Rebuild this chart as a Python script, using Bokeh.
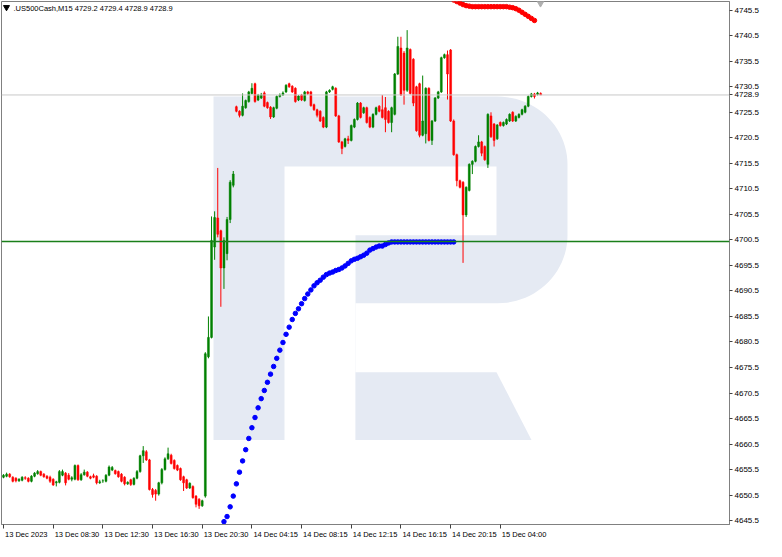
import numpy as np
from bokeh.plotting import figure
from bokeh.models import (ColumnDataSource, FixedTicker, Span, Label, Range1d,
                          NumeralTickFormatter, LinearAxis)
from bokeh.embed import file_html
from bokeh.resources import INLINE

symbol = ".US500Cash,M15"
last_quote = [4729.2, 4729.4, 4728.9, 4728.9]

open_ = [
    4654.0, 4654.2, 4654.6, 4654.0, 4653.8, 4653.3, 4653.4, 4653.9, 4653.8, 4653.2,
    4654.2, 4654.7, 4655.1, 4654.6, 4654.2, 4654.0, 4653.6, 4652.9, 4653.0, 4654.4,
    4654.8, 4654.4, 4653.6, 4653.6, 4656.3, 4653.5, 4654.5, 4655.0, 4654.1, 4654.3,
    4654.2, 4652.9, 4653.3, 4653.2, 4654.4, 4655.4, 4655.3, 4655.1, 4654.6, 4654.0,
    4652.7, 4653.5, 4652.6, 4653.8, 4655.1, 4658.2, 4659.0, 4657.4, 4651.6, 4651.4,
    4650.7, 4652.9, 4655.5, 4657.6, 4658.3, 4657.3, 4656.3, 4655.7, 4654.1, 4653.5,
    4651.9, 4652.2, 4650.3, 4649.7, 4648.4,
    4650.3, 4677.6, 4681.4, 4699.1, 4704.8, 4702.3, 4695.0, 4697.8, 4704.5, 4711.2,
    4726.6, 4725.7, 4724.9, 4726.4, 4727.6, 4729.2, 4731.1, 4727.9, 4728.3, 4729.3,
    4727.4, 4726.5, 4724.6, 4726.3, 4728.6, 4728.9, 4729.5, 4731.1, 4730.6, 4730.2,
    4727.9, 4728.9, 4727.8, 4729.5, 4729.5, 4727.0, 4726.0,
    4725.7, 4724.5,
    4722.6, 4729.5, 4730.0, 4730.2, 4724.8, 4719.7, 4718.8, 4720.3, 4720.0, 4722.6,
    4724.1, 4727.3, 4725.4, 4726.4, 4724.5, 4722.6, 4725.1, 4726.7, 4726.0, 4726.4,
    4725.7, 4723.5,
    4725.1, 4733.0, 4738.1, 4737.1, 4729.8, 4737.8, 4735.9, 4730.5, 4731.1, 4721.0,
    4721.3, 4730.2, 4720.0, 4723.8, 4728.3, 4729.5, 4736.2, 4736.8, 4737.7,
    4723.8, 4717.2, 4712.1, 4711.8, 4705.4, 4710.2, 4715.3, 4715.9, 4718.8, 4719.7,
    4718.8, 4715.3, 4724.8, 4723.2, 4720.3, 4723.5, 4722.9, 4723.2, 4723.8, 4725.5,
    4723.8, 4724.5, 4725.1, 4725.5, 4726.7, 4728.6, 4729.1, 4729.0, 4729.2,
]
high = [
    4654.6, 4654.9, 4654.8, 4654.2, 4654.0, 4653.8, 4654.2, 4654.2, 4654.0, 4654.4,
    4655.0, 4655.4, 4655.3, 4654.8, 4654.4, 4654.3, 4653.8, 4653.3, 4655.4, 4655.5,
    4655.0, 4654.8, 4654.2, 4656.5, 4656.5, 4654.8, 4655.5, 4655.2, 4654.3, 4654.7,
    4654.4, 4653.5, 4653.6, 4654.6, 4656.3, 4656.2, 4655.5, 4655.3, 4654.8, 4654.2,
    4653.2, 4653.7, 4654.0, 4655.4, 4658.4, 4660.1, 4659.3, 4657.6, 4651.9, 4651.7,
    4653.1, 4655.8, 4657.9, 4659.8, 4658.6, 4657.5, 4656.5, 4655.9, 4654.3, 4653.7,
    4653.0, 4652.4, 4650.5, 4649.9, 4649.6,
    4678.5, 4685.5, 4705.1, 4706.1, 4714.6, 4702.5, 4701.0, 4705.0, 4712.2, 4714.0,
    4726.8, 4725.9, 4729.2, 4728.0, 4729.7, 4731.2, 4731.3, 4729.1, 4729.3, 4729.6,
    4727.6, 4726.7, 4726.6, 4728.8, 4729.2, 4729.6, 4731.0, 4731.3, 4730.8, 4730.4,
    4728.9, 4729.1, 4729.7, 4729.7, 4729.7, 4727.2, 4726.2,
    4725.9, 4724.7,
    4729.7, 4730.0, 4730.7, 4730.4, 4725.0, 4719.9, 4720.5, 4720.9, 4723.1, 4724.3,
    4727.5, 4727.5, 4726.6, 4726.6, 4724.7, 4725.3, 4726.6, 4726.9, 4728.9, 4728.5,
    4725.9, 4726.6,
    4733.2, 4740.3, 4740.3, 4737.5, 4741.6, 4738.0, 4736.1, 4730.7, 4731.3, 4732.7,
    4730.4, 4730.4, 4724.0, 4728.5, 4729.7, 4736.4, 4737.0, 4737.6, 4737.9,
    4724.1, 4717.4, 4712.3, 4712.0, 4711.0, 4715.5, 4716.1, 4719.0, 4721.0, 4719.9,
    4719.0, 4725.3, 4725.5, 4723.4, 4723.2, 4723.7, 4723.7, 4724.3, 4725.3, 4725.7,
    4724.9, 4725.3, 4726.2, 4726.9, 4728.8, 4729.3, 4729.3, 4729.5, 4729.4,
]
low = [
    4653.8, 4654.0, 4653.9, 4653.0, 4653.0, 4653.1, 4653.2, 4653.5, 4653.0, 4653.0,
    4654.0, 4654.5, 4654.2, 4653.9, 4653.6, 4652.9, 4652.3, 4652.2, 4652.8, 4654.2,
    4652.4, 4653.4, 4653.2, 4653.4, 4653.3, 4653.3, 4654.3, 4654.0, 4653.6, 4653.8,
    4652.6, 4652.7, 4652.9, 4653.0, 4654.2, 4655.2, 4654.5, 4653.9, 4653.0, 4652.4,
    4652.5, 4652.3, 4652.4, 4653.6, 4654.9, 4656.8, 4657.2, 4651.4, 4650.0, 4649.4,
    4650.4, 4652.6, 4655.3, 4657.4, 4656.5, 4655.5, 4655.2, 4653.3, 4651.3, 4651.7,
    4651.7, 4649.8, 4648.1, 4647.8, 4648.2,
    4650.0, 4677.3, 4681.2, 4696.6, 4701.0, 4687.4, 4690.9, 4696.5, 4703.8, 4710.8,
    4725.5, 4724.5, 4724.7, 4726.2, 4727.4, 4729.0, 4727.4, 4727.7, 4728.1, 4726.5,
    4726.2, 4724.2, 4724.4, 4726.1, 4728.4, 4728.7, 4729.3, 4730.3, 4729.3, 4727.4,
    4727.7, 4727.7, 4727.6, 4728.9, 4726.6, 4725.8, 4724.5,
    4723.6, 4722.4,
    4722.4, 4729.3, 4729.8, 4724.6, 4719.5, 4717.3, 4718.6, 4719.3, 4719.8, 4722.4,
    4723.9, 4724.3, 4725.2, 4723.3, 4722.4, 4722.4, 4724.9, 4725.5, 4724.3, 4721.6,
    4723.3, 4721.6,
    4724.9, 4732.8, 4728.7, 4727.0, 4729.5, 4729.0, 4726.7, 4721.7, 4720.6, 4720.8,
    4719.4, 4719.8, 4719.1, 4723.6, 4728.1, 4729.3, 4736.0, 4728.0, 4723.6,
    4717.0, 4711.0, 4710.6, 4696.0, 4705.0, 4710.0, 4713.4, 4715.7, 4718.6, 4716.9,
    4716.0, 4714.6, 4720.5, 4718.8, 4720.1, 4722.7, 4722.7, 4723.0, 4723.6, 4723.6,
    4723.6, 4724.3, 4724.9, 4725.3, 4726.5, 4728.4, 4728.2, 4728.8, 4728.9,
]
close = [
    4654.4, 4654.6, 4654.1, 4653.2, 4653.3, 4653.6, 4654.0, 4653.8, 4653.2, 4654.2,
    4654.8, 4655.1, 4654.4, 4654.1, 4653.8, 4653.2, 4652.5, 4653.1, 4655.1, 4655.1,
    4652.9, 4653.6, 4653.9, 4656.3, 4653.5, 4654.5, 4655.0, 4654.2, 4653.8, 4654.0,
    4652.9, 4653.1, 4653.3, 4654.4, 4656.0, 4655.9, 4654.7, 4654.1, 4653.2, 4652.7,
    4653.0, 4652.6, 4653.8, 4655.1, 4658.2, 4659.2, 4657.4, 4651.6, 4650.6, 4650.7,
    4652.9, 4655.5, 4657.6, 4658.6, 4656.7, 4655.7, 4655.4, 4653.5, 4652.9, 4651.9,
    4652.8, 4650.0, 4648.7, 4648.4, 4649.4,
    4678.2, 4681.4, 4700.4, 4704.9, 4701.6, 4695.0, 4700.4, 4704.5, 4711.8, 4713.4,
    4725.7, 4724.9, 4726.7, 4727.8, 4729.5, 4730.2, 4727.6, 4728.9, 4728.9, 4726.7,
    4726.4, 4724.6, 4726.4, 4728.6, 4728.9, 4729.3, 4730.8, 4730.5, 4729.5, 4727.6,
    4728.7, 4727.9, 4729.5, 4729.2, 4726.8, 4726.0, 4724.9,
    4723.8, 4722.6,
    4729.5, 4729.8, 4730.5, 4724.8, 4719.7, 4718.4, 4720.3, 4720.0, 4722.9, 4724.1,
    4727.3, 4724.5, 4726.4, 4723.5, 4722.6, 4725.1, 4726.4, 4725.7, 4724.5, 4724.1,
    4723.5, 4726.4,
    4733.0, 4738.4, 4728.9, 4729.8, 4738.1, 4729.2, 4727.3, 4721.9, 4721.0, 4723.8,
    4730.2, 4720.0, 4723.8, 4728.3, 4729.5, 4736.2, 4736.8, 4733.0, 4723.8,
    4717.2, 4712.1, 4710.8, 4705.4, 4710.8, 4715.3, 4715.9, 4718.8, 4719.7, 4717.5,
    4716.2, 4725.1, 4720.7, 4720.0, 4723.0, 4722.9, 4723.5, 4724.1, 4725.1, 4723.8,
    4724.7, 4725.1, 4726.0, 4726.7, 4728.6, 4729.1, 4728.6, 4729.3, 4728.9,
]

blue_start = 71
blue_dots = [
    4645.3, 4646.3, 4648.2, 4650.3, 4652.7, 4655.0, 4657.2, 4659.4, 4661.6, 4663.7,
    4665.7, 4667.6, 4669.4, 4671.0, 4672.6, 4674.2, 4675.7, 4677.3, 4678.9, 4680.4,
    4682.0, 4683.4, 4684.9, 4686.1, 4687.0, 4688.0, 4689.0, 4689.9, 4690.7, 4691.5,
    4692.1, 4692.6, 4693.2, 4693.7, 4694.0, 4694.2, 4694.5, 4694.7, 4695.0, 4695.4,
    4695.9, 4696.4, 4696.7, 4696.9, 4697.2, 4697.5, 4697.9, 4698.5, 4698.8, 4699.1,
    4699.3, 4699.3, 4699.6, 4699.9, 4700.1, 4700.1, 4700.1, 4700.1, 4700.1, 4700.1,
    4700.1, 4700.1, 4700.1, 4700.1, 4700.1, 4700.1, 4700.1, 4700.1, 4700.1, 4700.1,
    4700.1, 4700.1, 4700.1, 4700.1, 4700.1,
]
red_start = 145
red_dots = [
    4747.5, 4747.2, 4746.9, 4746.6, 4746.4, 4746.3, 4746.2, 4746.2, 4746.2, 4746.2,
    4746.2, 4746.2, 4746.2, 4746.2, 4746.2, 4746.2, 4746.2, 4746.2, 4746.1, 4746.0,
    4745.8, 4745.5, 4745.1, 4744.7, 4744.3, 4743.9, 4743.5,
]

level_line = 4700.2
y_ticks = [4645.5 + 5 * k for k in range(21)]
x_tick_bars = [0, 16, 32, 48, 64, 80, 96, 112, 128, 144, 160]
x_tick_labels = ["13 Dec 2023", "13 Dec 08:30", "13 Dec 12:30", "13 Dec 16:30", "13 Dec 20:30",
                 "14 Dec 04:15", "14 Dec 08:15", "14 Dec 12:15", "14 Dec 16:15", "14 Dec 20:15",
                 "15 Dec 04:00"]

# ---- layout helpers (reference pixel geometry -> data space) ----
PPB = 3.105      # pixels per bar
PPP = 5.26       # pixels per price point in the reference
FRAME_W = 728
FRAME_H = 523


def px2x(px):
    return (px - 4) / PPB


def py2y(py):
    return 4745.5 - (py - 11) / PPP


FONT = "Liberation Sans"
XFS = 7.5
n = len(close)
xs = np.arange(n)
o = np.array(open_); c = np.array(close); h = np.array(high); l = np.array(low)
colors = np.where(c >= o, "#008000", "#ff0000")
src = ColumnDataSource(dict(x=xs, o=o, c=c, h=h, l=l, top=np.maximum(o, c),
                            bot=np.minimum(o, c), col=colors))

x0 = px2x(2)
x1 = x0 + FRAME_W / PPB
p = figure(frame_width=FRAME_W, frame_height=FRAME_H, output_backend="svg",
           toolbar_location=None,
           x_range=Range1d(x0, x1), y_range=Range1d(py2y(541), py2y(2)),
           y_axis_location="right", min_border_left=1, min_border_top=1,
           min_border_right=0, min_border_bottom=0)
p.grid.visible = False
p.outline_line_color = "#808080"
p.background_fill_color = "white"
p.border_fill_color = "white"

# watermark (RoboForex "R")
wm = "#e5eaf3"


def arc(cx, cy, r, a0, a1, k=24):
    t = np.linspace(np.radians(a0), np.radians(a1), k)
    return list(cx + r * np.cos(t)), list(cy + r * np.sin(t))


ax1, ay1 = arc(498, 170, 70, -90, 0)
ax2, ay2 = arc(498, 243, 70, 0, 90)
outer_x = [214, 214] + ax1 + ax2 + [356, 356, 285, 285]
outer_y = [454, 100] + ay1 + ay2 + [313, 454, 454, 454]
p.patch([px2x(v) for v in outer_x], [py2y(v) for v in outer_y], color=wm, line_color=None)
hole_x = [285, 497, 497, 356, 356, 285]
hole_y = [172, 172, 243, 243, 454, 454]
p.patch([px2x(v) for v in hole_x], [py2y(v) for v in hole_y], color="white", line_color=None)
leg_x = [356, 497, 532, 356]
leg_y = [384, 384, 454, 454]
p.patch([px2x(v) for v in leg_x], [py2y(v) for v in leg_y], color=wm, line_color=None)

# lines
p.add_layout(Span(location=close[-1], dimension="width", line_color="#c8c8c8", line_width=1))
p.add_layout(Span(location=level_line, dimension="width", line_color="#1a7f1a", line_width=1.5))

# candles
p.segment(x0="x", y0="h", x1="x", y1="l", color="col", line_width=1, source=src)
p.vbar(x="x", top="top", bottom="bot", width=0.62, fill_color="col", line_color="col",
       line_width=0.5, source=src)

# indicator dots
p.scatter(np.arange(blue_start, blue_start + len(blue_dots)), blue_dots, size=4.5,
          color="#0000ff")
p.scatter(np.arange(red_start, red_start + len(red_dots)), red_dots, size=4.5,
          color="#ff0000")

# shift marker
p.scatter([px2x(541)], [py2y(3)], marker="inverted_triangle", size=8, color="#b0b0b0")

# y axis (with the current price shown on the scale)
ya = p.yaxis[0]
ya.ticker = FixedTicker(ticks=y_ticks + [close[-1]])
ya.formatter = NumeralTickFormatter(format="0.0")
ya.major_label_overrides = {close[-1]: "%.1f" % close[-1]}
ya.major_label_text_font = FONT
ya.major_label_text_font_size = "8px"
ya.major_label_text_color = "#000000"
ya.major_tick_out = 3
ya.major_tick_in = 0
ya.minor_tick_out = 0
ya.minor_tick_in = 0
ya.major_label_standoff = 2
ya.axis_line_color = "#808080"
ya.major_tick_line_color = "#404040"

# x axis: tick marks only
xa = p.xaxis[0]
xa.ticker = FixedTicker(ticks=x_tick_bars)
xa.major_label_overrides = {t: "" for t in x_tick_bars}
xa.major_label_text_font_size = "0px"
xa.major_tick_out = 4
xa.major_tick_in = 0
xa.minor_tick_out = 0
xa.minor_tick_in = 0
xa.major_label_standoff = 0
xa.axis_line_color = "#808080"
xa.major_tick_line_color = "#404040"

# x axis labels: left-aligned to their tick (labels centred half a label width right)
ADV = {"0": .556, "1": .556, "2": .556, "3": .556, "4": .556, "5": .556, "6": .556,
       "7": .556, "8": .556, "9": .556, " ": .278, ":": .278, "D": .722, "e": .556, "c": .5}
shifted = []
for t, s in zip(x_tick_bars, x_tick_labels):
    w = sum(ADV.get(ch, .55) for ch in s) * XFS
    shifted.append(t + (w / 2 + 1.5) / PPB)
xl = LinearAxis(ticker=FixedTicker(ticks=shifted),
                major_label_overrides={t: s for t, s in zip(shifted, x_tick_labels)},
                axis_line_color=None, major_tick_line_color=None, minor_tick_line_color=None,
                major_tick_out=0, major_tick_in=0, minor_tick_out=0, minor_tick_in=0,
                major_label_standoff=1, major_label_text_font=FONT,
                major_label_text_font_size="%spx" % XFS, major_label_text_color="#000000")
p.add_layout(xl, "below")

# header
p.scatter([px2x(7)], [py2y(8)], marker="inverted_triangle", size=6, color="black")
hdr = "%s  %.1f %.1f %.1f %.1f" % ((symbol,) + tuple(last_quote))
p.add_layout(Label(x=px2x(14), y=py2y(9), text=hdr, text_font=FONT,
                   text_font_size="7.5px", text_color="black", text_baseline="middle",
                   text_align="left"))

open("out.html", "w").write(file_html(p, INLINE))
